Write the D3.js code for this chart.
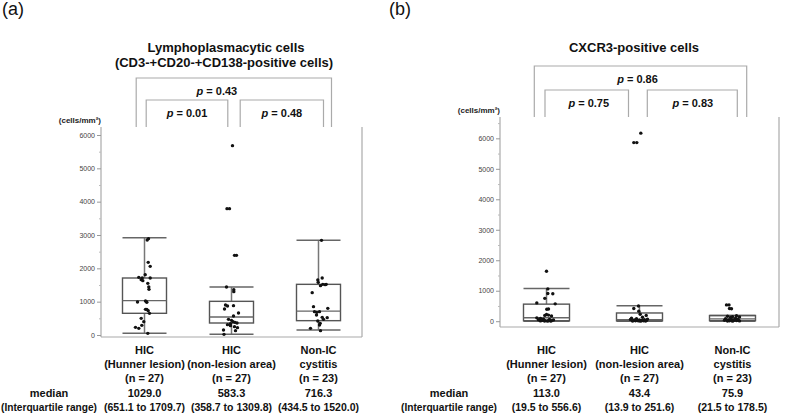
<!DOCTYPE html>
<html>
<head>
<meta charset="utf-8">
<script src="https://cdn.jsdelivr.net/npm/d3@7"></script>
<style>
  body { margin: 0; background: #fff; }
  svg { display: block; font-family: Arial, "Liberation Sans", sans-serif; }
</style>
</head>
<body>
<svg id="chart" width="787" height="415"></svg>
<script>
// ---- data ----
const groupLines = [
  ["HIC", "(Hunner lesion)", "(n = 27)"],
  ["HIC", "(non-lesion area)", "(n = 27)"],
  ["Non-IC", "cystitis", "(n = 23)"]
];
const yTicks = [0, 1000, 2000, 3000, 4000, 5000, 6000];
const minorTicksA = [500, 1500, 2500, 3500, 4500, 5500];
const minorTicksB = [500, 1500, 2500, 3500, 4500, 5500, 6500];

// [lower whisker, Q1, median, Q3, upper whisker]
const boxesA = [
  [50, 651, 1029, 1710, 2920],
  [20, 360, 540, 1010, 1440],
  [150, 430, 716, 1520, 2840]
];
const boxesB = [
  [0, 15, 113, 560, 1070],
  [0, 14, 50, 270, 510],
  [0, 20, 76, 187, 190]
];

const mediansA = ["1029.0", "583.3", "716.3"];
const iqrA = ["(651.1 to 1709.7)", "(358.7 to 1309.8)", "(434.5 to 1520.0)"];
const mediansB = ["113.0", "43.4", "75.9"];
const iqrB = ["(19.5 to 556.6)", "(13.9 to 251.6)", "(21.5 to 178.5)"];

// comparisons: [group i, group j, p label]
const pairsA = [[0, 1, "0.01"], [1, 2, "0.48"], [0, 2, "0.43"]];
const pairsB = [[0, 1, "0.75"], [1, 2, "0.83"], [0, 2, "0.86"]];

// individual points: values and horizontal jitter (px from group centre)
const ptsA1 = [2890, 2850, 2180, 2060, 1810, 1730, 1710, 1710, 1660, 1630, 1550, 1440, 1370, 990, 1020, 980, 1000, 770, 770, 730, 650, 500, 400, 290, 230, 200, 50];
const jitA1 = [4, 2.7, 3.7, 5.7, 0.7, -5.7, -2.3, 5.7, -3.3, -1.7, 3.3, 4.3, 4.5, -7, 1, 2.3, 2, 1, 2.3, 3.7, 5, -3.3, -0.7, -2.7, -9, -5.7, 3.3];
const ptsA2 = [5680, 3790, 3790, 2390, 2390, 1440, 1360, 1300, 900, 870, 880, 780, 660, 570, 470, 440, 400, 380, 360, 340, 310, 280, 250, 220, 150, 130, 20];
const jitA2 = [1, -4.5, -2, 3, 5, -5, 2.3, 2.3, -6, -4, 2, -7, 7, 2, -3, 0, 1.5, 3.5, 5.5, -1, -4, -1, 3, 6, -8, 4, -7.5];
const ptsA3 = [2840, 1710, 1650, 1580, 1520, 1520, 1510, 1480, 1270, 850, 800, 700, 680, 700, 600, 530, 520, 470, 420, 350, 300, 200, 130];
const jitA3 = [3, 3.7, -0.7, -0.3, 4.3, 7.7, 6.7, 2, -6.3, -5, 9.3, 1, -1.7, -4, -2, 3.7, 8.7, 5, -0.7, 1.7, 1, -8, 2];

const ptsB1 = [1640, 1060, 910, 900, 750, 600, 570, 390, 400, 220, 190, 200, 170, 110, 90, 70, 60, 50, 40, 30, 25, 20, 15, 10, 8, 5, 2];
const jitB1 = [0, 1.3, 1.3, 6.3, -1.7, -9.7, 8.7, 0.3, 2, 0, -1.7, 2, 5, -9.7, -6, -3, 3, -8, 7, -4, 2, -1, 5, -6, 4, -2, 1];
const ptsB2 = [6170, 5860, 5860, 500, 415, 330, 230, 190, 130, 100, 80, 70, 60, 50, 45, 40, 35, 30, 25, 20, 18, 15, 12, 10, 8, 5, 2];
const jitB2 = [1.3, -5.7, -2.7, -1, -5.7, -0.7, 0.7, 6.7, 3, -8, -3, 8, -9, 5, -5, 0, 3, -2, 7, -6, 2, -4, 4, -1, 6, -7, 1];
const ptsB3 = [535, 535, 415, 410, 180, 165, 150, 140, 120, 100, 80, 70, 60, 50, 40, 35, 30, 25, 20, 15, 10, 5, 2];
const jitB3 = [-6, -3.5, -3, -1, 4, -5, 0, 7, -2, 3, -7, 5, -1, 2, -4, 6, -8, 1, 4, -3, 7, -5, 0];

// ---- drawing ----
const svg = d3.select("#chart");

function drawPanel(cfg) {
  const g = svg.append("g");
  const x = d3.scaleBand().domain([0, 1, 2]).range(cfg.xRange).padding(0);
  const y = d3.scaleLinear().domain(cfg.yDomain).range(cfg.yRange);
  const cx = i => x(i) + x.bandwidth() / 2;
  const top = cfg.yRange[1], bottom = cfg.yRange[0];
  const left = cfg.xRange[0], right = cfg.xRange[1];
  const bw = cfg.boxWidth;

  // panel letter + title
  g.append("text").attr("x", cfg.letterX).attr("y", 15)
    .attr("font-size", 18).attr("fill", "#111").text(cfg.letter);
  cfg.title.forEach((t, k) => {
    g.append("text").attr("x", cfg.titleX[k]).attr("y", 52 + k * 14.5)
      .attr("text-anchor", "middle").attr("font-size", 13).attr("font-weight", "bold")
      .attr("fill", "#111").text(t);
  });

  // frame (right + bottom)
  g.append("line").attr("x1", left).attr("x2", right).attr("y1", bottom).attr("y2", bottom)
    .attr("stroke", "#aaa").attr("stroke-width", 1.2);
  g.append("line").attr("x1", right).attr("x2", right).attr("y1", top).attr("y2", bottom)
    .attr("stroke", "#aaa").attr("stroke-width", 1.2);

  // y axis
  const ax = g.append("g").attr("transform", `translate(${left},0)`)
    .style("color", "#555")
    .call(d3.axisLeft(y).tickValues(yTicks).tickFormat(d3.format("d"))
      .tickSize(4).tickSizeOuter(0).tickPadding(2));
  ax.select(".domain").attr("stroke", "#aaa").attr("stroke-width", 1.2)
    .attr("d", `M0,${top}V${bottom}`);
  ax.selectAll(".tick line").attr("stroke", "#999");
  ax.selectAll(".tick text").attr("font-size", 7).attr("fill", "#444")
    .attr("font-family", "Arial, 'Liberation Sans', sans-serif");
  const mx = g.append("g").attr("transform", `translate(${left},0)`)
    .call(d3.axisLeft(y).tickValues(cfg.minor).tickSize(2).tickFormat(""));
  mx.select(".domain").remove();
  mx.selectAll(".tick line").attr("stroke", "#bbb");

  g.append("text").attr("x", left).attr("y", cfg.unitY).attr("text-anchor", "end")
    .attr("font-size", 8).attr("font-weight", "bold").attr("fill", "#222")
    .text("(cells/mm²)");

  // comparison brackets
  cfg.pairs.forEach((p, k) => {
    const b = cfg.bracket[k];
    const x1 = cx(p[0]) + b[0], x2 = cx(p[1]) + b[1], yt = b[2];
    g.append("path")
      .attr("d", `M${x1},${top}V${yt}H${x2}V${top}`)
      .attr("fill", "none").attr("stroke", "#aaa").attr("stroke-width", 1.2);
    const t = g.append("text").attr("x", (x1 + x2) / 2 + b[3]).attr("y", yt + 17)
      .attr("text-anchor", "middle").attr("font-size", 11).attr("font-weight", "bold")
      .attr("fill", "#111");
    t.append("tspan").attr("font-style", "italic").text("p");
    t.append("tspan").text(" = " + p[2]);
  });

  // boxes
  cfg.boxes.forEach((s, i) => {
    const c = cx(i), x0 = c - bw / 2;
    const bg = g.append("g");
    bg.append("line").attr("x1", c).attr("x2", c).attr("y1", y(s[0])).attr("y2", y(s[1]))
      .attr("stroke", "#777").attr("stroke-width", 1.5);
    bg.append("line").attr("x1", c).attr("x2", c).attr("y1", y(s[3])).attr("y2", y(s[4]))
      .attr("stroke", "#777").attr("stroke-width", 1.5);
    [s[0], s[4]].forEach(v => {
      bg.append("line").attr("x1", x0).attr("x2", x0 + bw).attr("y1", y(v)).attr("y2", y(v))
        .attr("stroke", "#666").attr("stroke-width", 1.5);
    });
    bg.append("rect").attr("x", x0).attr("y", y(s[3])).attr("width", bw)
      .attr("height", y(s[1]) - y(s[3]))
      .attr("fill", "none").attr("stroke", "#555").attr("stroke-width", 1.4);
    bg.append("line").attr("x1", x0).attr("x2", x0 + bw).attr("y1", y(s[2])).attr("y2", y(s[2]))
      .attr("stroke", "#666").attr("stroke-width", 1.3);
  });

  // points
  cfg.points.forEach((vals, i) => {
    g.append("g").selectAll("circle").data(vals).join("circle")
      .attr("cx", (v, k) => cx(i) + cfg.jitter[i][k])
      .attr("cy", v => y(v))
      .attr("r", 1.7).attr("fill", "#111");
  });

  // category labels
  groupLines.forEach((lines, i) => {
    lines.forEach((t, k) => {
      g.append("text").attr("x", cx(i)).attr("y", 354 + k * 14)
        .attr("text-anchor", "middle").attr("font-size", 11).attr("font-weight", "bold")
        .attr("fill", "#111").text(t);
    });
    g.append("text").attr("x", cx(i)).attr("y", 397)
      .attr("text-anchor", "middle").attr("font-size", 11).attr("font-weight", "bold")
      .attr("fill", "#111").text(cfg.medians[i]);
    g.append("text").attr("x", cx(i)).attr("y", 411)
      .attr("text-anchor", "middle").attr("font-size", 10.5).attr("font-weight", "bold")
      .attr("fill", "#111").text(cfg.iqr[i]);
  });
  g.append("text").attr("x", cfg.statX).attr("y", 397)
    .attr("text-anchor", "middle").attr("font-size", 11).attr("font-weight", "bold")
    .attr("fill", "#111").text("median");
  g.append("text").attr("x", cfg.statX - 48).attr("y", 411)
    .attr("font-size", 10.5).attr("font-weight", "bold")
    .attr("textLength", 96).attr("lengthAdjust", "spacingAndGlyphs")
    .attr("fill", "#111").text("(Interquartile range)");
}

drawPanel({
  letter: "(a)", letterX: 2,
  title: ["Lymphoplasmacytic cells", "(CD3-+CD20-+CD138-positive cells)"],
  titleX: [226, 224],
  xRange: [101, 362], yDomain: [-60, 6240], yRange: [337, 127], boxWidth: 44,
  minor: minorTicksA, unitY: 123,
  pairs: pairsA,
  // [left offset, right offset, top y, label shift]
  bracket: [[1.7, -3.7, 100, 0], [8.7, 5, 100, 0], [-8.3, 13, 78, -17]],
  boxes: boxesA,
  points: [ptsA1, ptsA2, ptsA3], jitter: [jitA1, jitA2, jitA3],
  medians: mediansA, iqr: iqrA, statX: 49
});

drawPanel({
  letter: "(b)", letterX: 389,
  title: ["CXCR3-positive cells"],
  titleX: [634],
  xRange: [500, 779], yDomain: [-190, 6700], yRange: [327, 117], boxWidth: 46,
  minor: minorTicksB, unitY: 113,
  pairs: pairsB,
  bracket: [[-1.5, -11, 90, 2], [7.8, 4.8, 90, 0.5], [-12.2, 14.2, 66, -3]],
  boxes: boxesB,
  points: [ptsB1, ptsB2, ptsB3], jitter: [jitB1, jitB2, jitB3],
  medians: mediansB, iqr: iqrB, statX: 449
});
</script>
</body>
</html>
